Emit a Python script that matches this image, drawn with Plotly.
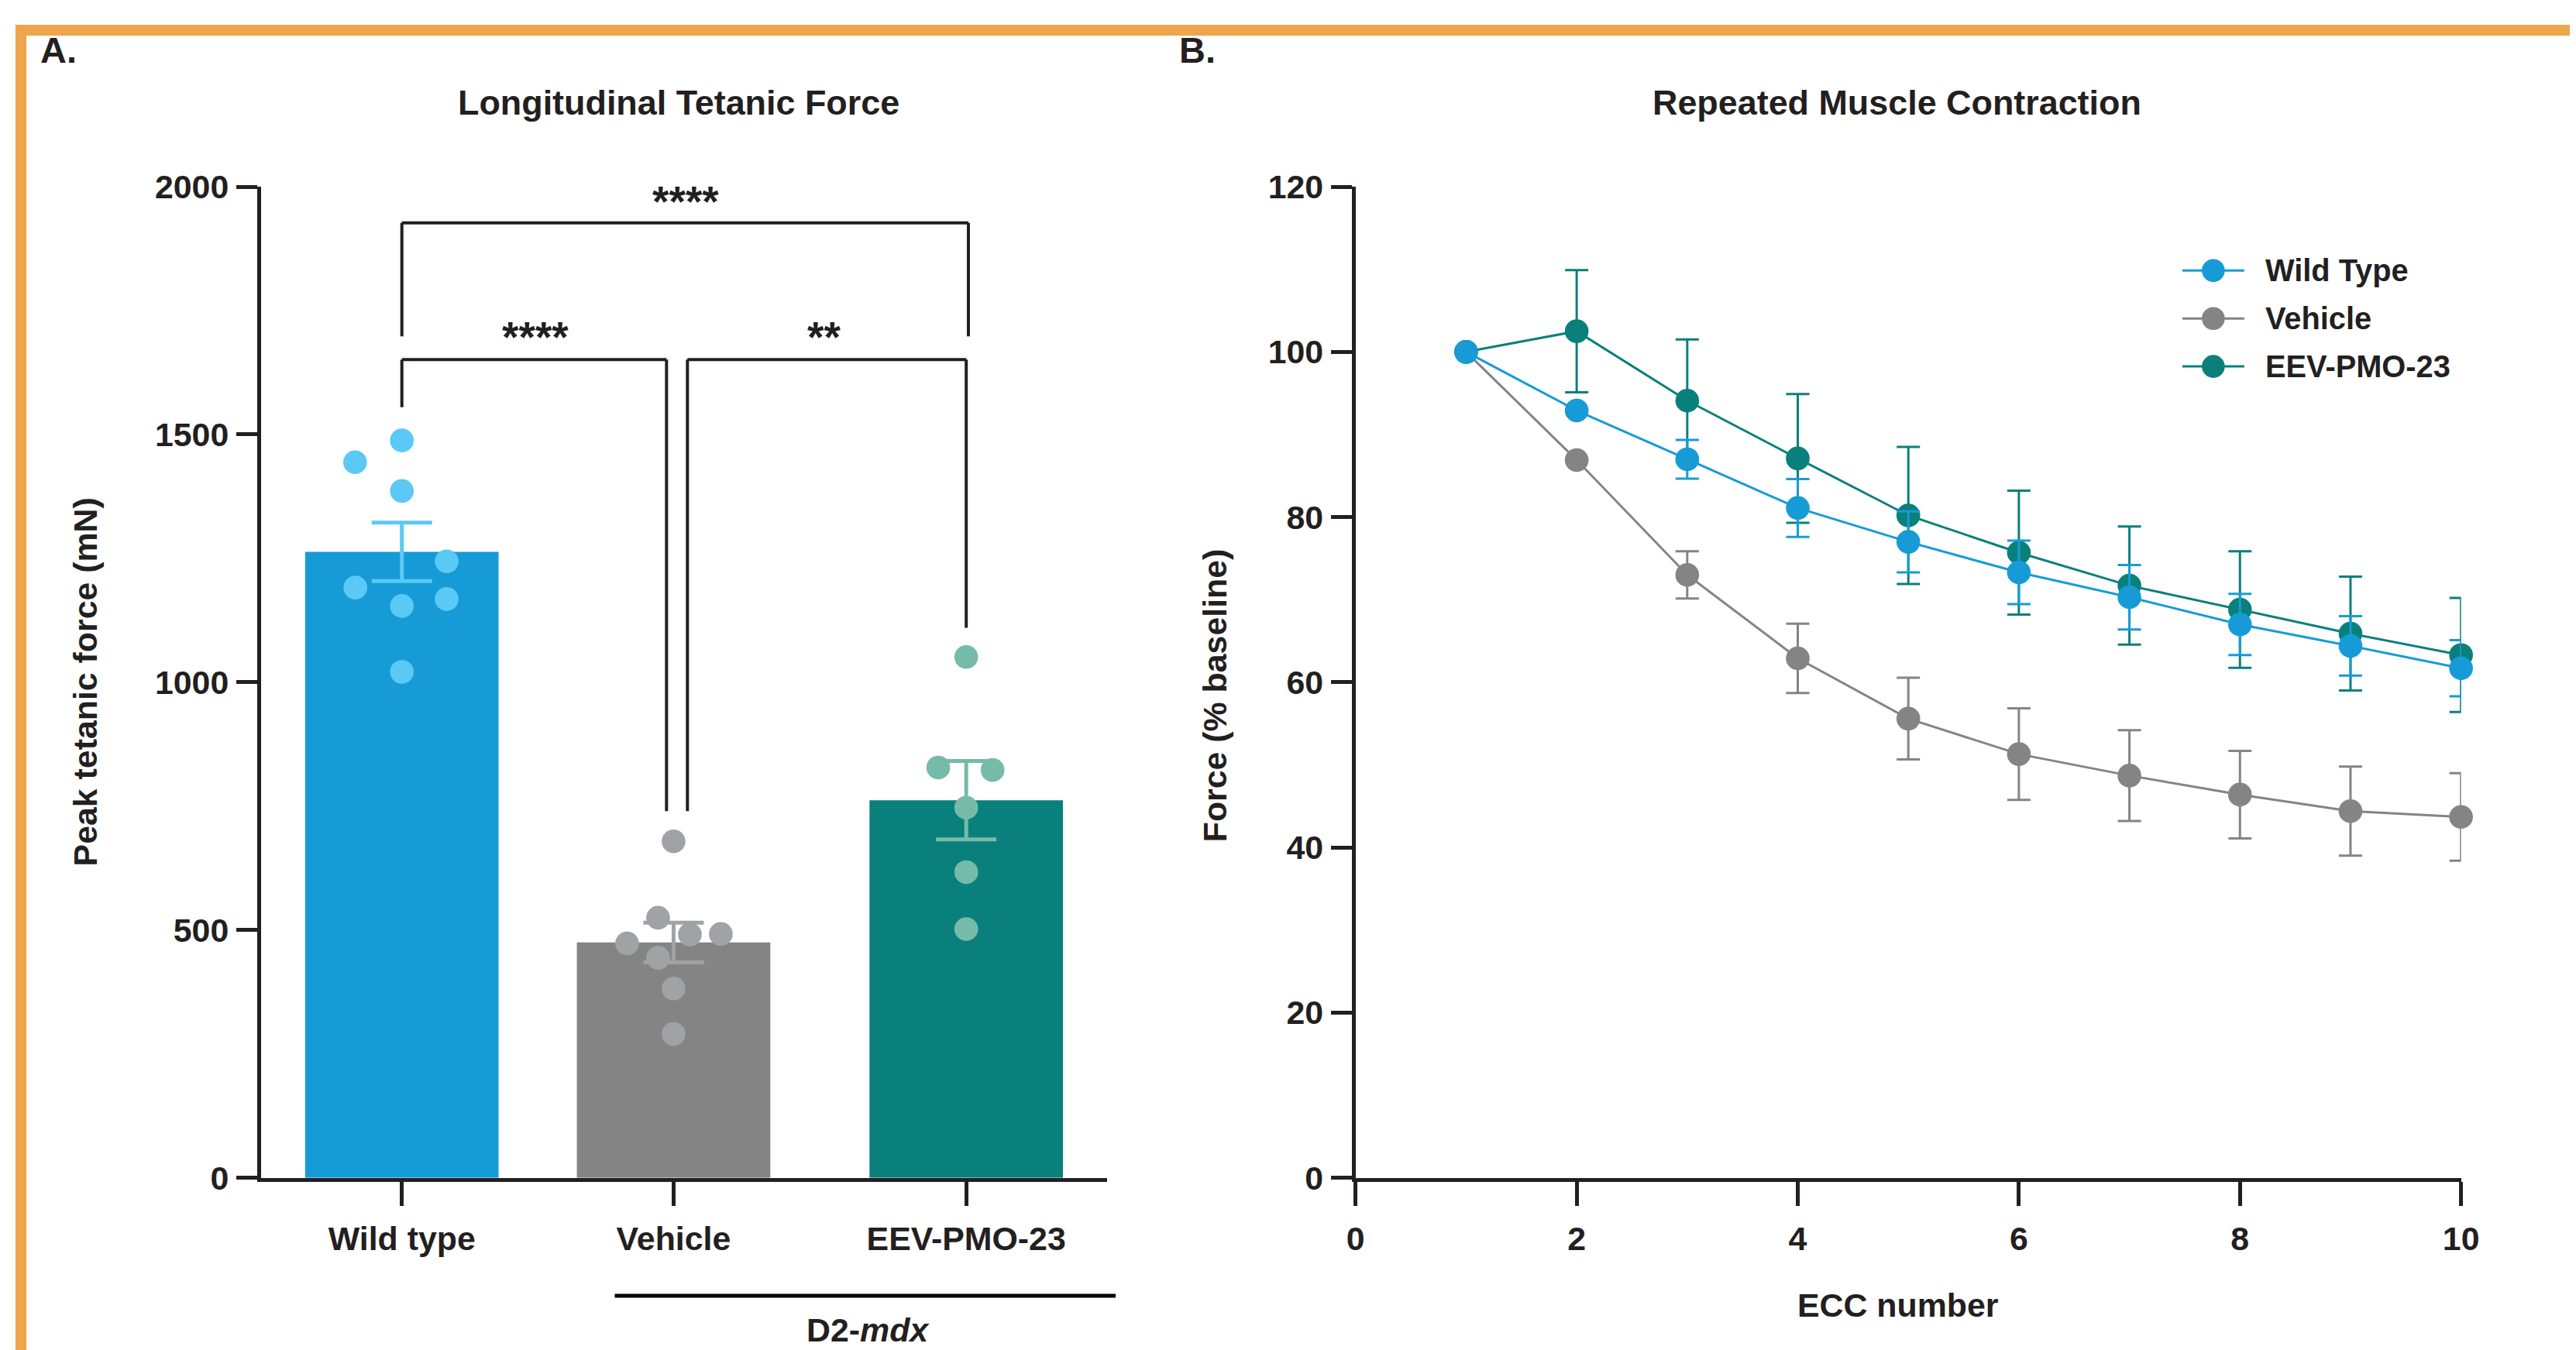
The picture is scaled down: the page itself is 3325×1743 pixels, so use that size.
import plotly.graph_objects as go

# The captured picture maps figure pixels to picture pixels as
#   picture_x = AX + SX * figure_x,  picture_y = AY + SY * figure_y
# so every placement below is given in picture pixels and converted.
AX, SX = 15.9, 0.990
AY, SY = 30.1, 0.9745
W, H = 3342, 1762          # figure size (covers the whole picture)
K = 0.98                   # size compensation

# ---------------- Panel A data ----------------
groups = ["Wild type", "Vehicle", "EEV-PMO-23"]
group_means = [1263, 475, 762]
group_sem = [59, 40, 79]
wt_points = [1444, 1488, 1386, 1244, 1191, 1168, 1154, 1021]
veh_points = [679, 525, 473, 491, 492, 444, 382, 290]
eev_points = [1051, 828, 823, 747, 617, 502]
a_yticks = [0, 500, 1000, 1500, 2000]

# ---------------- Panel B data ----------------
ecc = [1, 2, 3, 4, 5, 6, 7, 8, 9, 10]
wt_force = [100, 92.9, 87.0, 81.1, 77.0, 73.3, 70.3, 67.0, 64.4, 61.7]
wt_sem = [0, 0, 2.35, 3.5, 3.7, 3.85, 3.9, 3.7, 3.6, 3.4]
veh_force = [100, 86.9, 73.0, 62.9, 55.6, 51.3, 48.7, 46.4, 44.4, 43.7]
veh_sem = [0, 0, 2.85, 4.2, 4.95, 5.55, 5.5, 5.3, 5.4, 5.3]
eev_force = [100, 102.5, 94.1, 87.1, 80.2, 75.7, 71.7, 68.8, 65.9, 63.3]
eev_sem = [0, 7.4, 7.4, 7.8, 8.3, 7.5, 7.15, 7.05, 6.9, 6.9]
b_xticks = [0, 2, 4, 6, 8, 10]
b_yticks = [0, 20, 40, 60, 80, 100, 120]
b_names = ["Wild Type", "Vehicle", "EEV-PMO-23"]

# ---------------- styles / layout helpers ----------------
FONT = "Liberation Sans, Arial, Helvetica, sans-serif"
INK = "#231F20"
bar_colors = ["#179BD7", "#848484", "#0A807C"]
dot_colors = ["#5BC9F5", "#A1A2A6", "#76BBAA"]
line_colors = ["#179BD7", "#848484", "#0A807C"]
ORANGE = "#EFA54B"

group_pos = [0, 1, 2.077]          # category positions on panel A axis
jitters = [
    [-0.172, 0, 0, 0.165, -0.171, 0.165, 0, 0],
    [0, -0.057, -0.171, 0.06, 0.174, -0.057, 0, 0],
    [0, -0.103, 0.097, 0, 0, 0],
]
points = [wt_points, veh_points, eev_points]


def px(x):
    return min(max((x - AX) / SX / W, 0), 1)


def py(y):
    return min(max(1 - (y - AY) / SY / H, 0), 1)


def fs(s):
    return s / K


fig = go.Figure()

# Panel A bars
fig.add_trace(go.Bar(
    x=group_pos, y=group_means, width=0.712,
    marker=dict(color=bar_colors, line=dict(width=0)),
    xaxis="x", yaxis="y", showlegend=False, hoverinfo="skip",
))
# Panel A error bars (SEM)
for i in range(3):
    fig.add_trace(go.Scatter(
        x=[group_pos[i]], y=[group_means[i]], mode="markers",
        marker=dict(size=1, color="rgba(0,0,0,0)"),
        error_y=dict(type="data", array=[group_sem[i]], color=dot_colors[i],
                     thickness=5, width=39),
        xaxis="x", yaxis="y", showlegend=False, hoverinfo="skip",
    ))
# Panel A individual points
for i in range(3):
    fig.add_trace(go.Scatter(
        x=[group_pos[i] + j for j in jitters[i]], y=points[i], mode="markers",
        marker=dict(size=fs(30), color=dot_colors[i], line=dict(width=0)),
        xaxis="x", yaxis="y", showlegend=False, cliponaxis=False,
    ))

# Panel B lines (draw vehicle, EEV, then wild type on top)
series_b = [(veh_force, veh_sem, 1), (eev_force, eev_sem, 2), (wt_force, wt_sem, 0)]
for vals, sem, ci in series_b:
    fig.add_trace(go.Scatter(
        x=ecc, y=vals, mode="lines+markers", name=b_names[ci],
        line=dict(color=line_colors[ci], width=3),
        marker=dict(size=fs(30), color=line_colors[ci], line=dict(width=0)),
        error_y=dict(type="data", array=sem, color=line_colors[ci], thickness=3, width=15),
        xaxis="x2", yaxis="y2", showlegend=False, cliponaxis=False,
    ))

axis_common = dict(
    showline=True, linecolor=INK, linewidth=5, ticks="outside", tickcolor=INK,
    tickwidth=5, showgrid=False, zeroline=False,
    tickfont=dict(family=FONT, size=fs(42), color=INK, weight="bold"),
)

ydom = [py(1521.5), py(239.5)]
xa_lo, xa_hi = 333, 1426
unit = 351.0
fig.update_layout(
    width=W, height=H, margin=dict(l=0, r=0, t=0, b=0),
    paper_bgcolor="white", plot_bgcolor="rgba(0,0,0,0)",
    xaxis=dict(axis_common, domain=[px(xa_lo), px(xa_hi)],
               range=[(xa_lo - 515) / unit, (xa_hi - 515) / unit],
               tickvals=group_pos, ticktext=groups, ticklen=31, anchor="y",
               ticklabelstandoff=6),
    yaxis=dict(axis_common, domain=ydom, range=[0, 2000], tickvals=a_yticks,
               ticklen=27, anchor="x", ticklabelstandoff=1),
    xaxis2=dict(axis_common, domain=[px(1747), px(3175)], range=[0, 10],
                tickvals=b_xticks, ticklen=31, anchor="y2", ticklabelstandoff=6),
    yaxis2=dict(axis_common, domain=ydom, range=[0, 120], tickvals=b_yticks,
                ticklen=27, anchor="x2", ticklabelstandoff=1),
)

shapes = []
# orange frame (as close to the picture edge as the figure reaches)
shapes.append(dict(type="rect", xref="paper", yref="paper", x0=0, x1=px(30), y0=0, y1=1,
                   fillcolor=ORANGE, line=dict(width=0), layer="above"))
shapes.append(dict(type="rect", xref="paper", yref="paper", x0=0, x1=1, y0=py(44), y1=1,
                   fillcolor=ORANGE, line=dict(width=0), layer="above"))

# significance brackets (data coords of panel A)
br = dict(color=INK, width=4)


def seg(x0, y0, x1, y1):
    shapes.append(dict(type="line", xref="x", yref="y", x0=x0, y0=y0, x1=x1, y1=y1,
                       line=br, layer="above"))


gx0, gx1, gx2 = group_pos
# top: WT vs EEV
seg(gx0, 1698, gx0, 1927); seg(gx0, 1927, gx2 + 0.008, 1927); seg(gx2 + 0.008, 1927, gx2 + 0.008, 1698)
# WT vs Vehicle
seg(gx0, 1555, gx0, 1651); seg(gx0, 1651, gx1 - 0.026, 1651); seg(gx1 - 0.026, 1651, gx1 - 0.026, 740)
# Vehicle vs EEV
seg(gx1 + 0.051, 740, gx1 + 0.051, 1651); seg(gx1 + 0.051, 1651, gx2, 1651); seg(gx2, 1651, gx2, 1110)

# D2-mdx underline
shapes.append(dict(type="line", xref="paper", yref="paper", x0=px(790), x1=px(1437),
                   y0=py(1674), y1=py(1674), line=dict(color="black", width=5)))

# manual legend for panel B
leg_rows = [(348, 0), (410, 1), (472, 2)]
for yy, ci in leg_rows:
    shapes.append(dict(type="line", xref="paper", yref="paper", x0=px(2815), x1=px(2895),
                       y0=py(yy), y1=py(yy), line=dict(color=line_colors[ci], width=3)))
    shapes.append(dict(type="circle", xref="paper", yref="paper", xsizemode="pixel",
                       ysizemode="pixel", xanchor=px(2855), yanchor=py(yy),
                       x0=-14.8, x1=14.8, y0=-14.8, y1=14.8,
                       fillcolor=line_colors[ci], line=dict(width=0)))

fig.update_layout(shapes=shapes)


def ann(text, x, y, size, angle=0, xanchor="center"):
    return dict(text=text, x=px(x), y=py(y), xref="paper", yref="paper", showarrow=False,
                xanchor=xanchor, yanchor="middle", textangle=angle,
                font=dict(family=FONT, size=fs(size), color=INK, weight="bold"))


annotations = [
    ann("A.", 71, 63, 46),
    ann("B.", 1543, 63, 46),
    ann("Longitudinal Tetanic Force", 873, 131, 44),
    ann("Repeated Muscle Contraction", 2446, 131, 44),
    ann("Peak tetanic force (mN)", 106, 880, 42, angle=-90),
    ann("Force (% baseline)", 1565, 897, 42, angle=-90),
    ann("ECC number", 2448, 1686, 42),
    ann("D2-<i>mdx</i>", 1117, 1718, 42),
    ann("****", 882, 259, 54),
    ann("****", 687, 434, 54),
    ann("**", 1060, 434, 54),
]
for yy, ci in leg_rows:
    annotations.append(ann(b_names[ci], 2920, yy, 39, xanchor="left"))

fig.update_layout(annotations=annotations)

fig.write_html("out.html")
